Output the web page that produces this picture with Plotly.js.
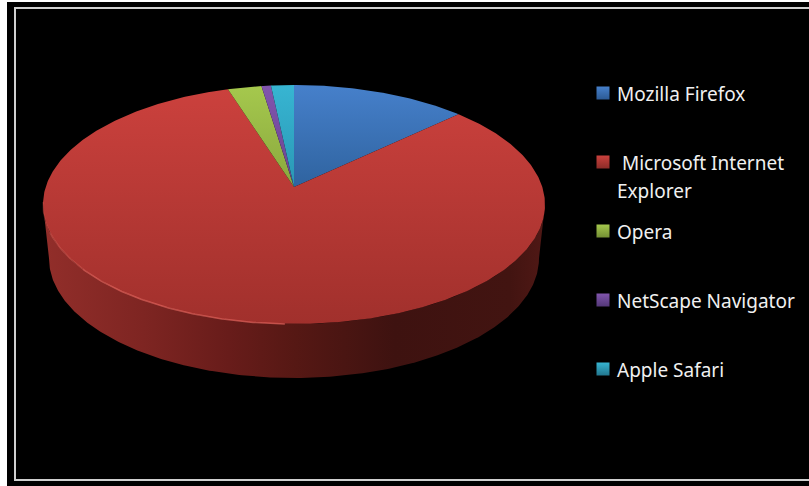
<!DOCTYPE html>
<html>
<head>
<meta charset="utf-8">
<script src="https://cdn.plot.ly/plotly-3.0.1.min.js"></script>
<style>
html,body{margin:0;padding:0;background:#fff;overflow:hidden}
#chart{width:809px;height:486px}
</style>
</head>
<body>
<div id="chart"></div>
<script>
// Browser market share, percent
const browsers = ['Mozilla Firefox', 'Microsoft Internet Explorer', 'Opera', 'NetScape Navigator', 'Apple Safari'];
const shares = [13, 82.1, 2.5, 0.7, 1.7];
const legendLines = [['Mozilla Firefox'], ['&nbsp;Microsoft Internet', 'Explorer'], ['Opera'], ['NetScape Navigator'], ['Apple Safari']];

const faceTop = ['#4680cb', '#cb413d', '#a5c84d', '#8155ad', '#37b5d2'];
const faceLow = ['#2f639f', '#a1302c', '#8aa83e', '#6a4490', '#2a97b4'];
const swatchLow = ['#2c5a94', '#8c2c28', '#748f34', '#543878', '#22768e'];

// Perspective view of a flat disc: turn angle (radians, clockwise from the far point)
// into canvas pixels. Near points spread out, so the centre sits above the ellipse middle.
const view = {x0: 294, y0: 187, spreadY: 89.55, spreadX: 248.3, persp: 0.1464, depth: 54, baseScale: 0.976};
function rim(angle) {
  const u = Math.sin(angle), v = Math.cos(angle), w = 1 + view.persp * v;
  return [view.x0 + view.spreadX * u / w, (view.y0 - view.spreadY * v) / w];
}
function base(angle) {
  const p = rim(angle);
  return [view.x0 + view.baseScale * (p[0] - view.x0), p[1] + view.depth];
}
function arc(fn, from, to, step) {
  const n = Math.max(2, Math.ceil(Math.abs(to - from) / step));
  const pts = [];
  for (let i = 0; i <= n; i++) pts.push(fn(from + (to - from) * i / n));
  return pts;
}

const total = shares.reduce((a, b) => a + b, 0);
const turn = 2 * Math.PI;
const traces = [];

// Side wall of the disc: only the near half of the rim shows
const wallFrom = Math.acos(-view.persp), wallTo = turn - wallFrom;
const wall = arc(rim, wallFrom, wallTo, 0.01).concat(arc(base, wallTo, wallFrom, 0.01));
traces.push({
  x: wall.map(p => p[0]), y: wall.map(p => p[1]), mode: 'lines', fill: 'toself',
  line: {width: 0}, hoverinfo: 'skip', showlegend: false,
  fillgradient: {type: 'horizontal', colorscale: [
    [0, '#922e2a'], [0.2, '#7e2522'], [0.37, '#681c1a'], [0.5, '#561814'],
    [0.7, '#3e1210'], [0.93, '#421411'], [1, '#501815']
  ]}
});

// One wedge per browser on the top face; the y axis runs downward, so the gradient stops run low to top
let start = 0;
shares.forEach((share, i) => {
  const sweep = share / total * turn;
  const pts = [[view.x0, view.y0]].concat(arc(rim, start, start + sweep, 0.01));
  pts.push([view.x0, view.y0]);
  traces.push({
    x: pts.map(p => p[0]), y: pts.map(p => p[1]), mode: 'lines', fill: 'toself',
    name: browsers[i], line: {width: 0}, hoverinfo: 'name', showlegend: false,
    fillgradient: {type: 'vertical', colorscale: [[0, faceLow[i]], [1, faceTop[i]]]}
  });
  start += sweep;
});

// Lit bevel along the lower left edge of the top face, fading toward the front
[[0.505, 0.64, 0.7], [0.64, 0.69, 0.45], [0.69, 0.73, 0.22]].forEach(([from, to, alpha]) => {
  const bevel = arc(rim, turn * from, turn * to, 0.01);
  traces.push({
    x: bevel.map(p => p[0]), y: bevel.map(p => p[1]), mode: 'lines',
    line: {width: 1.5, color: `rgba(226,100,92,${alpha})`}, hoverinfo: 'skip', showlegend: false
  });
});

// Legend column
const legendX = 603, textX = 615, firstY = 93, rowStep = 69, lineStep = 28;
const rows = browsers.map((_, i) => firstY + i * rowStep);
traces.push({
  x: browsers.map(() => legendX), y: rows, mode: 'markers', hoverinfo: 'skip', showlegend: false,
  marker: {symbol: 'square', size: 13, color: faceTop, line: {width: 0},
           gradient: {type: 'vertical', color: swatchLow}}
});
const annotations = [];
legendLines.forEach((lines, i) => lines.forEach((text, j) => annotations.push({
  x: textX, y: rows[i] + 1 + j * lineStep, xref: 'x', yref: 'y', xanchor: 'left', yanchor: 'middle',
  text, showarrow: false, font: {family: 'Noto Sans', size: 19, color: '#f0f0f0'}
})));

const layout = {
  width: 809, height: 486, margin: {l: 0, r: 0, t: 0, b: 0},
  paper_bgcolor: '#ffffff', plot_bgcolor: '#ffffff', showlegend: false,
  xaxis: {range: [0, 809], visible: false, fixedrange: true},
  yaxis: {range: [486, 0], visible: false, fixedrange: true},
  annotations,
  shapes: [
    {type: 'rect', layer: 'below', xref: 'x', yref: 'y', x0: 7, x1: 809, y0: 2, y1: 486,
     fillcolor: '#000000', line: {width: 0}},
    {type: 'rect', layer: 'below', xref: 'x', yref: 'y', x0: 15, x1: 815, y0: 8, y1: 480,
     fillcolor: '#000000', line: {width: 2, color: '#d0d0d0'}}
  ]
};
Plotly.newPlot('chart', traces, layout, {displayModeBar: false, staticPlot: true});
</script>
</body>
</html>
